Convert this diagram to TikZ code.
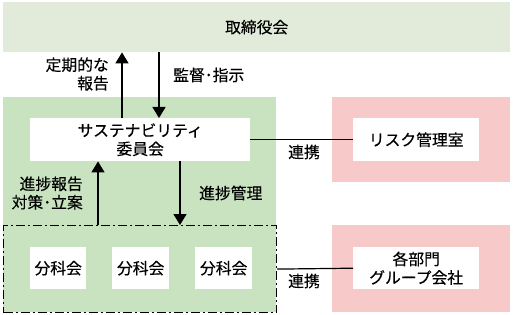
\documentclass[tikz,border=0pt]{standalone}
\usepackage{fontspec}
\setmainfont{Noto Sans CJK JP}[FakeBold=0.3]
\usetikzlibrary{arrows.meta,positioning}
\definecolor{boardgreen}{RGB}{226,235,217}
\definecolor{panelgreen}{RGB}{201,227,193}
\definecolor{panelpink}{RGB}{247,201,201}

\begin{document}
\begin{tikzpicture}[x=1pt,y=-1pt,
font=\fontsize{15.8}{18.5}\selectfont,
band/.style={fill=boardgreen, anchor=north west, inner sep=0pt},
greenpanel/.style={fill=panelgreen, anchor=north west, inner sep=0pt},
pinkpanel/.style={fill=panelpink, anchor=north west, inner sep=0pt},
wbox/.style={fill=white, anchor=north west, align=center, inner sep=0pt, minimum height=42},
groupbox/.style={draw, line width=1.2pt, dash pattern=on 9pt off 3pt on 2pt off 3pt, anchor=north west, inner sep=0pt},
arrow/.style={-{Triangle[length=11pt,width=13pt]}, line width=1.4pt},
link/.style={line width=1.2pt},
lbl/.style={align=right, inner sep=0pt}
]
\useasboundingbox (0,0) rectangle (513,315);

% panels
\node[band, minimum width=507, minimum height=50] (board) at (3,2) {取締役会};
\node[greenpanel, minimum width=273, minimum height=215] (green) at (3,97) {};
\node[pinkpanel, minimum width=178, minimum height=85] (pink1) at (332,97) {};
\node[pinkpanel, minimum width=178, minimum height=87] (pink2) at (332,225) {};

% boxes
\node[wbox, minimum width=220, minimum height=43] (committee) at (30,118) {サステナビリティ\\委員会};
\node[wbox, minimum width=126, minimum height=43] (risk) at (353,118) {リスク管理室};
\node[wbox, minimum width=126] (dept) at (353,247) {各部門\\グループ会社};
\node[groupbox, minimum width=273, minimum height=87] (group) at (3,225) {};
\node[wbox, minimum width=56] (sub1) at (30,247) {分科会};
\node[wbox, minimum width=57] (sub2) at (112,247) {分科会};
\node[wbox, minimum width=57] (sub3) at (195,247) {分科会};

% labels
\node[lbl, anchor=east] (report) at (109,74) {定期的な\\報告};
\node[lbl, anchor=west] (supervise) at (173,75) {監督･指示};
\node[lbl, anchor=east] (progress) at (83,193) {進捗報告\\対策･立案};
\node[lbl, anchor=west] (manage) at (199,193) {進捗管理};
\node[lbl] (link1) at (304,152) {連携};
\node[lbl] (link2) at (304,281) {連携};

% connectors
\coordinate (xa) at (122,0);
\coordinate (xb) at (159,0);
\coordinate (xc) at (98,0);
\coordinate (xd) at (180,0);
\draw[arrow] (committee.north -| xa) -- (board.south -| xa);
\draw[arrow] (board.south -| xb) -- (committee.north -| xb);
\draw[arrow] (group.north -| xc) -- (committee.south -| xc);
\draw[arrow] (committee.south -| xd) -- (group.north -| xd);
\draw[link] (committee.east) -- (risk.west);
\draw[link] (group.east) -- (dept.west);
\end{tikzpicture}
\end{document}
